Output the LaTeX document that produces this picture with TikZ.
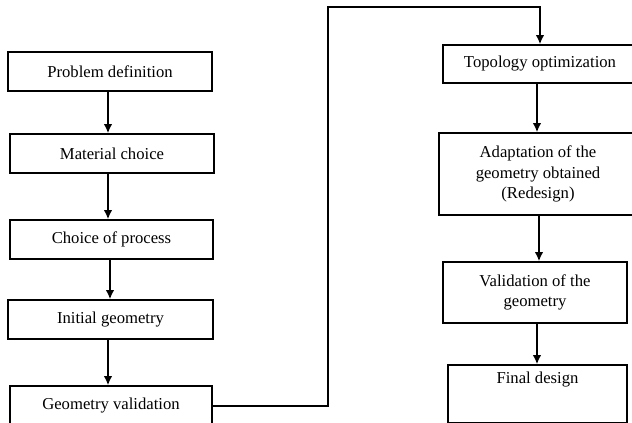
\documentclass[tikz,border=0pt]{standalone}
\usepackage{fontspec}
\setmainfont{Liberation Serif}
\usetikzlibrary{arrows.meta}

\begin{document}
\begin{tikzpicture}[x=0.75pt, y=-0.75pt]
\tikzset{etape/.style={draw, line width=1pt, inner sep=2pt, align=center, font=\fontsize{12.5}{15.4}\selectfont},
         fleche/.style={line width=1.5pt, -{Latex[length=7pt, width=6.5pt]}}}
\useasboundingbox (0,0) rectangle (632,422);
\clip (0,0) rectangle (632,422);
\node[etape, minimum width=204*0.75pt, minimum height=39*0.75pt] (PD) at (110,71.5) {Problem definition};
\node[etape, minimum width=204*0.75pt, minimum height=39*0.75pt] (MC) at (112,153.5) {Material choice};
\node[etape, minimum width=203*0.75pt, minimum height=39*0.75pt] (CP) at (111.5,239.5) {Choice of process};
\node[etape, minimum width=205*0.75pt, minimum height=39*0.75pt] (IG) at (110.5,319.5) {Initial geometry};
\node[etape, minimum width=202*0.75pt, minimum height=39*0.75pt] (GV) at (111,405.5) {Geometry validation};
\node[etape, minimum width=194*0.75pt, minimum height=38*0.75pt] (TO) at (540,64) {Topology optimization};
\node[etape, minimum width=198*0.75pt, minimum height=82*0.75pt] (AD) at (538,174) {Adaptation of the\\geometry obtained\\(Redesign)};
\node[etape, minimum width=184*0.75pt, minimum height=61*0.75pt] (VA) at (535,292.5) {Validation of the\\geometry};
\node[etape, minimum width=179*0.75pt, minimum height=58*0.75pt, text depth=24pt] (FD) at (537.5,394) {Final design};
\coordinate (K1) at (328,7);
\coordinate (K2) at (540,7);
\draw[fleche] (PD.south -| 108,0) -- (MC.north -| 108,0);
\draw[fleche] (MC.south -| 108,0) -- (CP.north -| 108,0);
\draw[fleche] (CP.south -| 110,0) -- (IG.north -| 110,0);
\draw[fleche] (IG.south -| 108,0) -- (GV.north -| 108,0);
\draw[fleche] (GV.east) -| (K1) -- (K2) -- (TO.north);
\draw[fleche] (TO.south -| 537,0) -- (AD.north -| 537,0);
\draw[fleche] (AD.south -| 539,0) -- (VA.north -| 539,0);
\draw[fleche] (VA.south -| 537,0) -- (FD.north -| 537,0);
\end{tikzpicture}
\end{document}
